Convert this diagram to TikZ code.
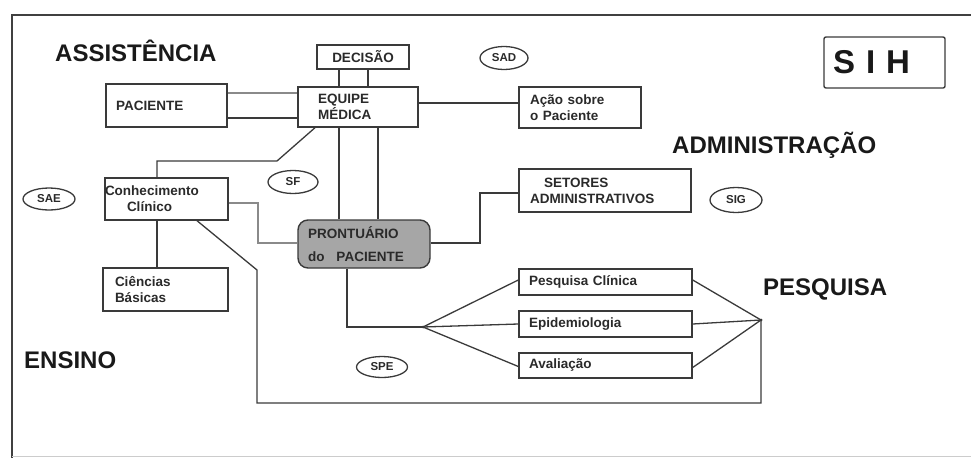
\documentclass[tikz,border=0pt]{standalone}
\usepackage{fontspec}
\setmainfont{Liberation Sans}
\usetikzlibrary{shapes.geometric,calc}
\definecolor{ink}{HTML}{2A2A2A}
\definecolor{edge}{HTML}{3A3A3A}
\definecolor{lite}{HTML}{8A8A8A}
\begin{document}
\begin{tikzpicture}[x=1pt,y=-1pt,
  box/.style={draw=edge, line width=1.4pt, inner ysep=0pt, align=left, text=ink,
     font=\fontsize{13.5}{16}\selectfont\bfseries},
  oval/.style={ellipse, draw=edge, line width=1.3pt, inner sep=0pt, text=ink,
     font=\fontsize{11.5}{13}\selectfont\bfseries},
  area/.style={inner sep=0pt, anchor=base west, text=black!90,
     font=\fontsize{24}{28}\selectfont\bfseries},
  link/.style={draw=edge, line width=1.3pt},
  linklite/.style={draw=lite, line width=1.3pt}]
\useasboundingbox (0,0) rectangle (971,458);
% frame
\draw[draw=black!75, line width=2pt] (12,458) -- (12,15) -- (971,15);
\draw[draw=black!20, line width=1pt] (12,456) -- (971,456);

% area labels
\node[area] (assist) at (55,61) {ASSISTÊNCIA};
\node[area] (admin) at (672,153) {ADMINISTRAÇÃO};
\node[area] (pesq) at (763,295) {PESQUISA};
\node[area] (ensino) at (24,368) {ENSINO};

% SIH
\node[draw=edge, line width=1.4pt, rounded corners=2pt, minimum width=121pt, minimum height=51pt,
      text width=103pt, inner xsep=9pt, align=left, text=black!90,
      font=\fontsize{33}{36}\selectfont\bfseries] (sih) at (884.5,62.5) {S I H};

% boxes
\node[box, minimum width=92pt, minimum height=24pt, inner xsep=0pt, align=center] (dec) at (363,57) {DECISÃO};
\node[box, minimum width=121pt, minimum height=43pt, inner xsep=10pt, text width=101pt] (pac) at (166.5,105.5) {PACIENTE};
\node[box, minimum width=120pt, minimum height=40pt, inner xsep=20pt, text width=80pt] (eq) at (358,107) {EQUIPE\\MÉDICA};
\node[box, minimum width=122pt, minimum height=41pt, inner xsep=11pt, text width=100pt] (acao) at (580,107.5) {Ação sobre\\o Paciente};
\node[box, minimum width=172pt, minimum height=43pt, inner xsep=11pt, text width=150pt] (set) at (605,190.5) {\hspace*{14pt}SETORES\\ADMINISTRATIVOS};
\node[box, minimum width=123pt, minimum height=42pt, inner xsep=0pt, text width=123pt] (con) at (166.5,199) {Conhecimento\\\hspace*{22pt}Clínico};
\node[box, minimum width=125pt, minimum height=43pt, inner xsep=12pt, text width=101pt] (cie) at (165.5,289.5) {Ciências\\Básicas};
\node[box, fill=black!35, rounded corners=10pt, minimum width=132pt, minimum height=48pt,
      inner xsep=10pt, text width=112pt] (pron) at (364,244) {PRONTUÁRIO\\[7pt]do\hspace*{12pt}PACIENTE};
\node[box, minimum width=173pt, minimum height=26pt, inner xsep=10pt, text width=153pt] (pc) at (605.5,282) {Pesquisa Clínica};
\node[box, minimum width=173pt, minimum height=26pt, inner xsep=10pt, text width=153pt] (epi) at (605.5,324) {Epidemiologia};
\node[box, minimum width=173pt, minimum height=25pt, inner xsep=10pt, text width=153pt] (ava) at (605.5,365.5) {Avaliação};

% ellipses
\node[oval, minimum width=48pt, minimum height=23pt] (sad) at (504,58) {SAD};
\node[oval, minimum width=52pt, minimum height=25pt] (sig) at (736,200) {SIG};
\node[oval, minimum width=52pt, minimum height=22pt] (sae) at (49,199) {SAE};
\node[oval, minimum width=50pt, minimum height=23pt] (sf) at (293,182) {SF};
\node[oval, minimum width=51pt, minimum height=21pt] (spe) at (382,367) {SPE};

% junction points
\coordinate (fanL) at (423,327);
\coordinate (fanR) at (761,320);

% connectors
\draw[linklite] (pac.east |- 0,93) -- (eq.west |- 0,93);
\draw[link] (pac.east |- 0,118) -- (eq.west |- 0,118);
\draw[link] (dec.south -| 339,0) -- (eq.north -| 339,0);
\draw[link] (dec.south -| 368,0) -- (eq.north -| 368,0);
\draw[link] (eq.east |- 0,103) -- (acao.west |- 0,103);
\draw[link] (eq.south -| 315,0) -- (277,161) -- (157,161) -- (con.north -| 157,0);
\draw[link] (eq.south -| 339,0) -- (pron.north -| 339,0);
\draw[link] (eq.south -| 378,0) -- (pron.north -| 378,0);
\draw[linklite] (con.east |- 0,203) -- (258,203) -- (258,243) -- (pron.west |- 0,243);
\draw[link] (pron.east |- 0,243) -- (480,243) -- (480,193) -- (set.west |- 0,193);
\draw[link] (con.south -| 157,0) -- (cie.north -| 157,0);
\draw[link] (con.south -| 197,0) -- (257,270) -- (257,403) -- (761,403) -- (fanR);
\draw[link] (pron.south -| 347,0) -- (347,327) -- (fanL);
\fill[edge] (fanL) circle (1.5pt);
\fill[edge] (fanR) circle (1.5pt);
\draw[link] (fanL) -- ($(pc.west)+(0,-2)$);
\draw[link] (fanL) -- (epi.west);
\draw[link] (fanL) -- ($(ava.west)+(0,1)$);
\draw[link] ($(pc.east)+(0,-2)$) -- (fanR);
\draw[link] (epi.east) -- (fanR);
\draw[link] ($(ava.east)+(0,2)$) -- (fanR);
\end{tikzpicture}
\end{document}
